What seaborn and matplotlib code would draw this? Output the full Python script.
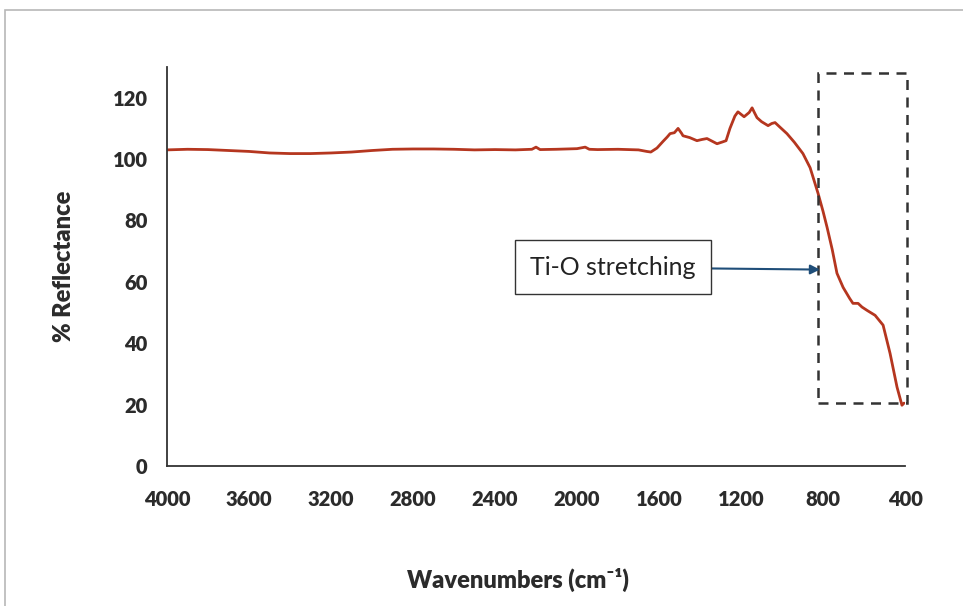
import matplotlib
matplotlib.use("Agg")
import matplotlib.pyplot as plt
from matplotlib.patches import Rectangle
import pandas as pd
import seaborn as sns

# FTIR reflectance spectrum (wavenumber in cm^-1, % reflectance)
wavenumber = [4000, 3900, 3800, 3700, 3600, 3500, 3400, 3300, 3200, 3100,
              3000, 2900, 2800, 2700, 2600, 2500, 2400, 2300, 2220, 2200,
              2180, 2100, 2000, 1960, 1940, 1900, 1800, 1700, 1660, 1640,
              1610, 1580, 1560, 1546, 1525, 1507, 1490, 1483, 1450, 1415,
              1390, 1366, 1340, 1317, 1290, 1273, 1254, 1230, 1215, 1200,
              1185, 1160, 1146, 1135, 1122, 1100, 1068, 1050, 1034, 1010,
              976, 940, 898, 863, 824, 800, 780, 755, 732, 702,
              670, 654, 629, 610, 585, 546, 507, 473, 439, 415, 405]
reflectance = [103.0, 103.2, 103.1, 102.8, 102.5, 102.0, 101.8, 101.8, 102.0, 102.3,
               102.8, 103.2, 103.3, 103.3, 103.2, 103.0, 103.1, 103.0, 103.2, 103.9,
               103.1, 103.2, 103.4, 103.9, 103.2, 103.1, 103.2, 103.0, 102.5, 102.3,
               103.6, 105.8, 107.2, 108.3, 108.6, 110.0, 108.4, 107.6, 107.0, 106.0,
               106.4, 106.7, 105.8, 105.0, 105.6, 106.0, 110.0, 114.0, 115.4, 114.6,
               113.8, 115.2, 116.7, 115.2, 113.5, 112.2, 110.9, 111.6, 111.9, 110.4,
               108.3, 105.5, 101.8, 97.2, 88.8, 83.0, 77.7, 70.5, 62.8, 58.2,
               54.6, 53.0, 53.0, 51.8, 50.7, 49.1, 45.9, 36.7, 25.7, 19.8, 20.5]

x_ticks = [4000, 3600, 3200, 2800, 2400, 2000, 1600, 1200, 800, 400]
y_ticks = [0, 20, 40, 60, 80, 100, 120]

sns.set_style("white")
plt.rcParams["font.family"] = ["Lato", "DejaVu Sans"]

df = pd.DataFrame({"Wavenumber": wavenumber, "Reflectance": reflectance})

fig = plt.figure(figsize=(9.63, 6.06), dpi=100)
fig.patch.set_facecolor("white")
ax = fig.add_axes([0.1734, 0.231, 0.7664, 0.6584])

sns.lineplot(data=df, x="Wavenumber", y="Reflectance", ax=ax,
             color="#b5361f", linewidth=2.0, sort=False, estimator=None)

ax.set_xlim(4000, 400)
ax.set_ylim(0, 130)
ax.set_xticks(x_ticks)
ax.set_yticks(y_ticks)
ax.set_xticklabels([str(t) for t in x_ticks], fontsize=14.5, fontweight="heavy", color="#2b2b2b")
ax.set_yticklabels([str(t) for t in y_ticks], fontsize=14.5, fontweight="heavy", color="#2b2b2b")
ax.tick_params(axis="both", direction="out", length=6, width=1.2, color="#333333")
ax.tick_params(axis="y", pad=8)
ax.tick_params(axis="x", pad=11)

for side in ("top", "right"):
    ax.spines[side].set_visible(False)
for side in ("left", "bottom"):
    ax.spines[side].set_color("#333333")
    ax.spines[side].set_linewidth(1.3)

ax.set_xlabel("Wavenumbers (cm\u207b\u00b9)", fontsize=17, fontweight="heavy",
              color="#2b2b2b")
ax.xaxis.set_label_coords(0.475, -0.255)
ax.set_ylabel("% Reflectance", fontsize=17, fontweight="heavy",
              color="#2b2b2b")
ax.yaxis.set_label_coords(-0.125, 0.5)

# Dashed box marking the Ti-O band region
ax.add_patch(Rectangle((824, 20.5), 390 - 824, 128 - 20.5, fill=False,
                       linestyle=(0, (4, 3)), linewidth=1.8, edgecolor="#333333",
                       clip_on=False, zorder=3))

# Annotation label with arrow
ax.annotate("Ti-O stretching", xy=(815, 64.0), xytext=(1824, 64.7),
            fontsize=18, color="#222222", ha="center", va="center",
            bbox=dict(boxstyle="square,pad=0.62", fc="white", ec="#333333", lw=1.0),
            arrowprops=dict(arrowstyle="-|>", color="#1f4e79", lw=1.5,
                            mutation_scale=14, shrinkA=0, shrinkB=0))

# Outer chart border
fig.add_artist(Rectangle((0.005, -0.05), 1.1, 0.033 + 1.0, transform=fig.transFigure,
                         fill=False, edgecolor="#b8b8b8", linewidth=1.2))

fig.savefig("out.png", dpi=100, facecolor="white")
